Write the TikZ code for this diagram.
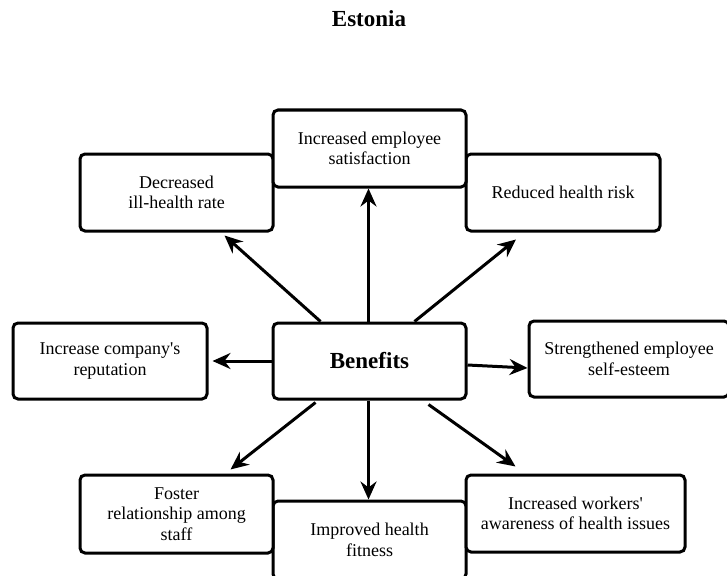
\documentclass[tikz,border=0pt]{standalone}
\usepackage{fontspec}
\setmainfont{Liberation Serif}
\usetikzlibrary{arrows.meta}
\begin{document}
\begin{tikzpicture}[x=1pt,y=-1pt,
  benefit/.style={draw=black, fill=white, line width=3pt, rounded corners=5pt,
    align=center, inner sep=2pt, minimum height=77pt, minimum width=193pt,
    font=\fontsize{18}{20.5}\selectfont},
  hub/.style={benefit, font=\fontsize{23}{26}\selectfont\bfseries},
  link/.style={line width=3pt, -{Stealth[length=18pt,width=16pt,inset=6pt]}}]
\useasboundingbox (0,0) rectangle (727,575);
\node[font=\fontsize{23}{26}\selectfont\bfseries] (title) at (369,19) {Estonia};
% boxes at the bottom go first so that their neighbours overlap them
\node[benefit, minimum height=78pt] (imp) at (369.5,540) {Improved health\\fitness};
\node[benefit, minimum height=78pt] (fos) at (176.5,514) {Foster\\relationship among\\staff};
\node[benefit, minimum width=219pt] (wor) at (575.5,513.5) {Increased workers\textquotesingle\\awareness of health issues};
\node[benefit] (dec) at (176.5,192.5) {Decreased\\ill-health rate};
\node[benefit, minimum width=194pt] (red) at (563,192.5) {Reduced health risk};
\node[benefit] (sat) at (369.5,148.5) {Increased employee\\satisfaction};
\node[benefit, minimum width=194pt, minimum height=76pt] (rep) at (110,361) {Increase company\textquotesingle s\\reputation};
\node[benefit, minimum width=200pt, minimum height=76pt] (str) at (629,359) {Strengthened employee\\self-esteem};
\node[hub, minimum height=76pt] (ben) at (369.5,361) {Benefits};
% arrows from the central box
\draw[link] ([xshift=-1pt]ben.north) -- ([xshift=-1pt]sat.south);
\draw[link] ([xshift=49pt]ben.north west) -- ([xshift=-50pt,yshift=-3pt]dec.south east);
\draw[link] ([xshift=-53pt]ben.north east) -- ([xshift=-47pt,yshift=-7pt]red.south);
\draw[link] (ben.west) -- ([xshift=4pt]rep.east);
\draw[link] ([yshift=-4pt]ben.east) -- ([yshift=-9pt]str.west);
\draw[link] ([xshift=44pt,yshift=-2pt]ben.south west) -- ([xshift=-44pt,yshift=4pt]fos.north east);
\draw[link] ([xshift=-1pt]ben.south) -- ([xshift=-1pt]imp.north);
\draw[link] ([xshift=-39pt,yshift=-4pt]ben.south east) -- ([xshift=51pt,yshift=7pt]wor.north west);
\end{tikzpicture}
\end{document}
